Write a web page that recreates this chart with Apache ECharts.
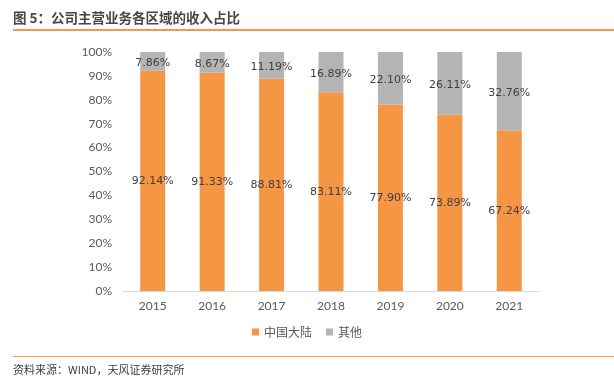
<!DOCTYPE html>
<html>
<head>
<meta charset="utf-8">
<script src="https://cdn.jsdelivr.net/npm/echarts@6/dist/echarts.min.js"></script>
<style>
  html, body { margin: 0; padding: 0; background: #fff; }
  #wrap { position: relative; width: 614px; height: 376px; font-family: "Noto Sans CJK SC", sans-serif; }
  #title { position: absolute; left: 13px; top: 7px; font-size: 13.5px; font-weight: bold; color: #474747; }
  #lineTop { position: absolute; left: 13px; right: 0; top: 29px; height: 2px; background: #f79646; }
  #lineBottom { position: absolute; left: 13px; right: 0; top: 356px; height: 1px; background: #f79646; }
  #source { position: absolute; left: 13px; top: 361px; font-size: 11px; color: #404040; }
  #chart { position: absolute; left: 0; top: 0; width: 614px; height: 376px; }
</style>
</head>
<body>
<div id="wrap">
  <div id="chart"></div>
  <div id="title">图 5：公司主营业务各区域的收入占比</div>
  <div id="lineTop"></div>
  <div id="lineBottom"></div>
  <div id="source">资料来源：WIND，天风证券研究所</div>
</div>
<script>
// 数据
var aYears = ['2015', '2016', '2017', '2018', '2019', '2020', '2021'];
var aMainland = [92.14, 91.33, 88.81, 83.11, 77.90, 73.89, 67.24];
var aOther = [7.86, 8.67, 11.19, 16.89, 22.10, 26.11, 32.76];
var aNames = ['中国大陆', '其他'];

var oChart = echarts.init(document.getElementById('chart'));

// 数据标签
function makeLabel(iOffsetY) {
    return {
        show: true,
        position: 'inside',
        offset: [0, iOffsetY],
        color: '#404040',
        fontSize: 11,
        fontFamily: 'DejaVu Sans',
        formatter: function (p) { return p.value.toFixed(2) + '%'; }
    };
}

oChart.setOption({
    animation: false,
    grid: { left: 123, right: 75, top: 52, bottom: 85 },
    legend: {
        data: aNames,
        top: 321,
        left: 'center',
        itemWidth: 7,
        itemHeight: 7,
        itemGap: 14,
        icon: 'rect',
        textStyle: { color: '#595959', fontSize: 12, fontFamily: 'Noto Sans CJK SC' }
    },
    xAxis: {
        type: 'category',
        data: aYears,
        axisLine: { lineStyle: { color: '#d9d9d9' } },
        axisTick: { show: false },
        axisLabel: { color: '#595959', fontSize: 12, margin: 9, fontFamily: 'Lato' }
    },
    yAxis: {
        type: 'value',
        min: 0,
        max: 100,
        interval: 10,
        splitLine: { show: false },
        axisLine: { show: false },
        axisTick: { show: false },
        axisLabel: { color: '#595959', fontSize: 12, margin: 11, fontFamily: 'Lato', formatter: '{value}%' }
    },
    series: [
        {
            name: aNames[0],
            type: 'bar',
            stack: 'total',
            barWidth: 25,
            data: aMainland,
            itemStyle: { color: '#f59644' },
            label: makeLabel(0)
        },
        {
            name: aNames[1],
            type: 'bar',
            stack: 'total',
            barWidth: 25,
            data: aOther,
            itemStyle: { color: '#b4b4b4' },
            label: makeLabel(2)
        }
    ]
});
</script>
</body>
</html>
